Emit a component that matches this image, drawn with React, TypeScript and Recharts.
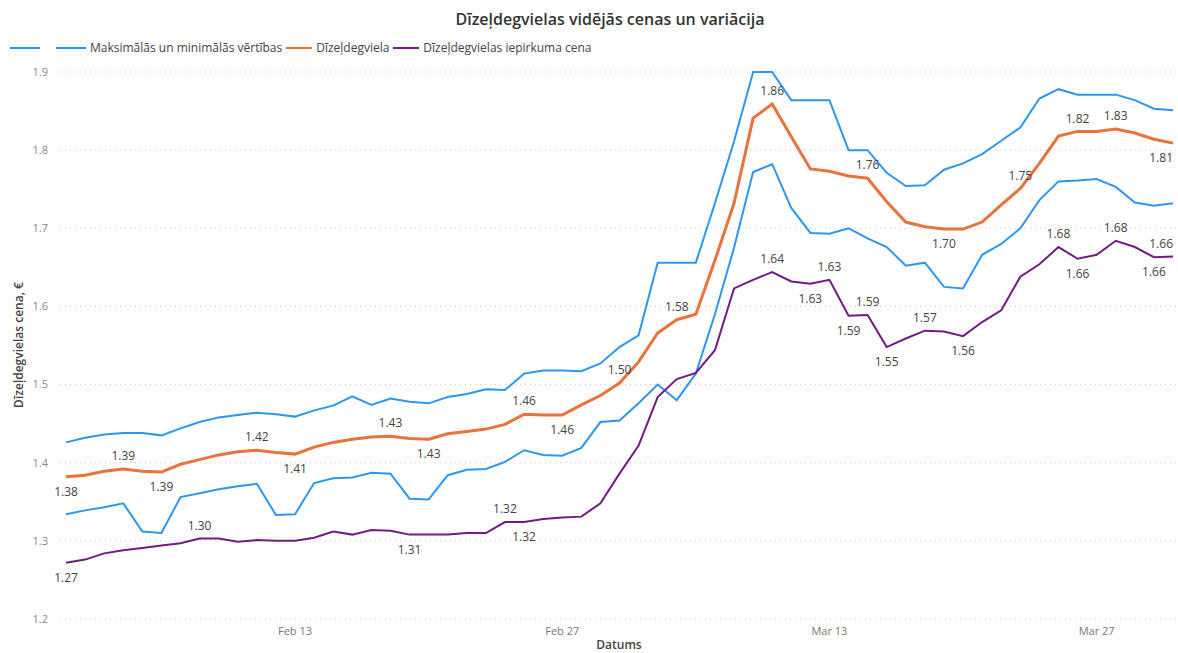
import { LineChart, Line, XAxis, YAxis, CartesianGrid, LabelList } from "recharts"

const dates = [
  "Feb 1", "Feb 2", "Feb 3", "Feb 4", "Feb 5", "Feb 6", "Feb 7", "Feb 8", "Feb 9", "Feb 10",
  "Feb 11", "Feb 12", "Feb 13", "Feb 14", "Feb 15", "Feb 16", "Feb 17", "Feb 18", "Feb 19", "Feb 20",
  "Feb 21", "Feb 22", "Feb 23", "Feb 24", "Feb 25", "Feb 26", "Feb 27", "Feb 28", "Mar 1", "Mar 2",
  "Mar 3", "Mar 4", "Mar 5", "Mar 6", "Mar 7", "Mar 8", "Mar 9", "Mar 10", "Mar 11", "Mar 12",
  "Mar 13", "Mar 14", "Mar 15", "Mar 16", "Mar 17", "Mar 18", "Mar 19", "Mar 20", "Mar 21", "Mar 22",
  "Mar 23", "Mar 24", "Mar 25", "Mar 26", "Mar 27", "Mar 28", "Mar 29", "Mar 30", "Mar 31",
]

const tickDates = ["Feb 13", "Feb 27", "Mar 13", "Mar 27"]
const yTicks = [1.2, 1.3, 1.4, 1.5, 1.6, 1.7, 1.8, 1.9]

// max / min band
const maxPrice = [
  1.426, 1.432, 1.436, 1.438, 1.438, 1.435, 1.444, 1.452, 1.458, 1.461,
  1.464, 1.462, 1.459, 1.467, 1.473, 1.485, 1.474, 1.482, 1.478, 1.476,
  1.484, 1.488, 1.494, 1.493, 1.514, 1.518, 1.518, 1.517, 1.527, 1.548,
  1.563, 1.656, 1.656, 1.656, 1.732, 1.811, 1.9, 1.9, 1.864, 1.864,
  1.864, 1.8, 1.8, 1.771, 1.754, 1.755, 1.775, 1.783, 1.795, 1.812,
  1.829, 1.866, 1.878, 1.871, 1.871, 1.871, 1.864, 1.853, 1.851,
]
const minPrice = [
  1.334, 1.339, 1.343, 1.348, 1.312, 1.31, 1.356, 1.361, 1.366, 1.37,
  1.373, 1.333, 1.334, 1.374, 1.38, 1.381, 1.387, 1.386, 1.354, 1.353,
  1.384, 1.391, 1.392, 1.401, 1.416, 1.41, 1.409, 1.419, 1.452, 1.454,
  1.476, 1.5, 1.48, 1.514, 1.59, 1.675, 1.772, 1.782, 1.726, 1.694,
  1.693, 1.7, 1.687, 1.676, 1.652, 1.656, 1.625, 1.623, 1.666, 1.68,
  1.7, 1.736, 1.76, 1.761, 1.763, 1.753, 1.733, 1.729, 1.732,
]
const dieselPrice = [
  1.382, 1.384, 1.389, 1.392, 1.389, 1.388, 1.398, 1.404, 1.41, 1.414,
  1.416, 1.413, 1.411, 1.42, 1.426, 1.43, 1.433, 1.434, 1.431, 1.43,
  1.437, 1.44, 1.443, 1.449, 1.462, 1.461, 1.461, 1.474, 1.486, 1.502,
  1.529, 1.566, 1.583, 1.59, 1.659, 1.732, 1.841, 1.859, 1.817, 1.776,
  1.773, 1.767, 1.764, 1.734, 1.708, 1.702, 1.699, 1.699, 1.708, 1.73,
  1.751, 1.783, 1.818, 1.824, 1.824, 1.827, 1.822, 1.814, 1.809,
]
const purchasePrice = [
  1.272, 1.276, 1.284, 1.288, 1.291, 1.294, 1.297, 1.303, 1.303, 1.299,
  1.301, 1.3, 1.3, 1.304, 1.312, 1.308, 1.314, 1.313, 1.308, 1.308,
  1.308, 1.31, 1.31, 1.324, 1.324, 1.328, 1.33, 1.331, 1.348, 1.386,
  1.422, 1.484, 1.507, 1.515, 1.544, 1.623, 1.634, 1.644, 1.632, 1.629,
  1.634, 1.588, 1.589, 1.548, 1.559, 1.569, 1.568, 1.562, 1.58, 1.595,
  1.638, 1.654, 1.676, 1.661, 1.666, 1.684, 1.676, 1.663, 1.664,
]

// which points get a value label (index -> above / below)
const dieselLabels: Record<number, "up" | "down"> = {
  0: "down", 3: "up", 5: "down", 10: "up", 12: "down", 17: "up", 19: "down", 24: "up", 26: "down",
  29: "up", 32: "up", 37: "up", 42: "up", 46: "down", 50: "up", 53: "up", 55: "up", 58: "down",
}
const purchaseLabels: Record<number, "up" | "down"> = {
  0: "down", 7: "up", 18: "down", 23: "up", 24: "down", 37: "up", 39: "down", 40: "up", 41: "down",
  42: "up", 43: "down", 45: "up", 47: "down", 52: "up", 53: "down", 55: "up", 57: "down", 58: "up",
}

const data = dates.map((d, i) => ({
  i,
  date: d,
  max: maxPrice[i],
  min: minPrice[i],
  diesel: dieselPrice[i],
  purchase: purchasePrice[i],
}))

const FONT = "'Segoe UI', 'Open Sans', sans-serif"
const BLUE = "#2f96ee"
const ORANGE = "#e8733c"
const PURPLE = "#731a84"

function makeLabel(map: Record<number, "up" | "down">) {
  return (props: any) => {
    const { x, y, index, value } = props
    const pos = map[index]
    if (!pos || x == null) return null
    return (
      <text
        x={x}
        y={pos === "up" ? y - 12 : y + 16}
        textAnchor={index === 58 ? "end" : "middle"}
        dominantBaseline="middle"
        fontSize={12}
        fontFamily={FONT}
        fill="#444"
      >
        {Number(value).toFixed(2)}
      </text>
    )
  }
}

function LegendItem({ color, text, width = 28 }: { color: string; text?: string; width?: number }) {
  return (
    <span style={{ display: "inline-flex", alignItems: "center", marginRight: 4 }}>
      <span style={{ display: "inline-block", width, height: 2, background: color, marginRight: 4 }} />
      {text && <span>{text}</span>}
    </span>
  )
}

export default function App() {
  return (
    <div style={{ position: "absolute", left: 0, top: 0, width: 1178, height: 653, background: "#fff", fontFamily: FONT }}>
      <div
        style={{
          position: "absolute", top: 8, left: 0, width: 1220, textAlign: "center",
          fontSize: 16, fontWeight: 600, color: "#333",
        }}
      >
        Dīzeļdegvielas vidējās cenas un variācija
      </div>
      <div
        style={{
          position: "absolute", top: 39, left: 10, fontSize: 12, color: "#444",
          display: "flex", alignItems: "center", whiteSpace: "nowrap",
        }}
      >
        <LegendItem color={BLUE} width={30} />
        <span style={{ width: 8 }} />
        <LegendItem color={BLUE} text="Maksimālās un minimālās vērtības" width={30} />
        <LegendItem color={ORANGE} text="Dīzeļdegviela" width={26} />
        <LegendItem color={PURPLE} text="Dīzeļdegvielas iepirkuma cena" width={26} />
      </div>
      <div
        style={{
          position: "absolute", left: 18, top: 345, transform: "translate(-50%, -50%) rotate(-90deg)",
          fontSize: 12, fontWeight: 600, color: "#444", whiteSpace: "nowrap",
        }}
      >
        Dīzeļdegvielas cena, €
      </div>
      <div
        style={{
          position: "absolute", left: 619, top: 645, transform: "translate(-50%, -50%)",
          fontSize: 12, fontWeight: 600, color: "#444", lineHeight: "14px",
        }}
      >
        Datums
      </div>
      <LineChart width={1178} height={653} data={data} margin={{ top: 72, right: 0, bottom: 0, left: 0 }}>
        <CartesianGrid vertical={false} stroke="#c8c8c8" strokeDasharray="1 4" />
        <XAxis
          dataKey="i"
          type="number"
          domain={[0, dates.length - 1]}
          ticks={tickDates.map((t) => dates.indexOf(t))}
          tickFormatter={(v) => dates[v]}
          padding={{ left: 6, right: 5 }}
          axisLine={false}
          tickLine={false}
          height={34}
          tick={{ fontSize: 11, fill: "#777", fontFamily: FONT }}
        />
        <YAxis
          domain={[1.2, 1.9]}
          ticks={yTicks}
          tickFormatter={(v) => String(v)}
          axisLine={false}
          tickLine={false}
          width={60}
          tickMargin={6}
          tick={{ fontSize: 11, fill: "#888", fontFamily: FONT }}
        />
        <Line type="linear" dataKey="max" stroke={BLUE} strokeWidth={2} dot={false} isAnimationActive={false} />
        <Line type="linear" dataKey="min" stroke={BLUE} strokeWidth={2} dot={false} isAnimationActive={false} />
        <Line type="linear" dataKey="diesel" stroke={ORANGE} strokeWidth={3} dot={false} isAnimationActive={false}>
          <LabelList dataKey="diesel" content={makeLabel(dieselLabels)} />
        </Line>
        <Line type="linear" dataKey="purchase" stroke={PURPLE} strokeWidth={2} dot={false} isAnimationActive={false}>
          <LabelList dataKey="purchase" content={makeLabel(purchaseLabels)} />
        </Line>
      </LineChart>
    </div>
  )
}
